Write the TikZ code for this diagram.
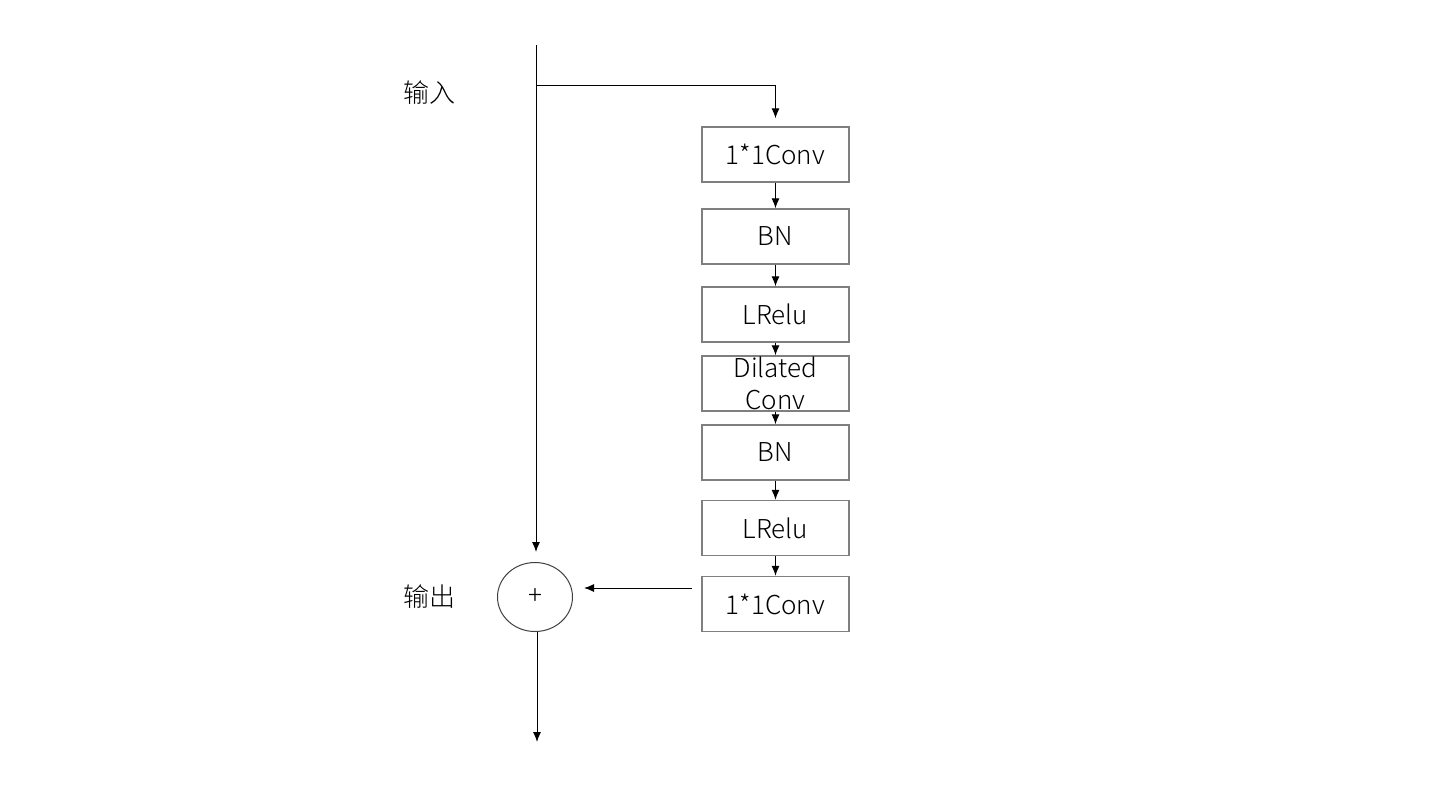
\documentclass[tikz,border=0pt]{standalone}
\usepackage{fontspec}
\setmainfont{Noto Sans CJK SC Light}
\usetikzlibrary{arrows.meta,shapes.geometric}
\definecolor{boxgray}{HTML}{7F7F7F}
\definecolor{ringgray}{HTML}{404040}

\begin{document}
\begin{tikzpicture}[x=0.5pt,y=-0.5pt,
    block/.style={draw=boxgray,line width=0.7pt,minimum width=73.5pt,minimum height=27.5pt,
      inner sep=0pt,font=\fontsize{13}{16}\selectfont},
    lab/.style={font=\fontsize{13}{16}\selectfont},
    arr/.style={-{Latex[length=5pt,width=4pt]},line width=0.5pt}]
  \useasboundingbox (0,0) rectangle (1440,810);

  % residual branch
  \node[block] (conva) at (775.5,154.5) {1*1Conv};
  \node[block] (bna) at (775.5,236.5) {BN};
  \node[block] (relua) at (775.5,314.5) {LRelu};
  \node[block,align=center] (dil) at (775.5,383.5) {Dilated\\Conv};
  \node[block] (bnb) at (775.5,452.5) {BN};
  \node[block] (relub) at (775.5,528) {LRelu};
  \node[block] (convb) at (775.5,604) {1*1Conv};

  % sum and labels
  \node[ellipse,draw=ringgray,line width=0.5pt,minimum width=37.5pt,minimum height=34.5pt,
    inner sep=0pt,font=\fontsize{13}{13}\selectfont] (sum) at (535,597) {+};
  \node[lab] (in) at (429,93) {输入};
  \node[lab] (out) at (429,597) {输出};

  \coordinate (top) at (536,45);
  \coordinate (split) at (536,85);
  \coordinate (fb) at (692,588);
  \coordinate (end) at (537,742);

  \draw[arr,shorten >=5pt] (top) -- (top |- sum.north);
  \draw[arr,shorten >=4pt] (split) -| (conva.north);
  \foreach \a/\b in {conva/bna,bna/relua,relua/dil,dil/bnb,bnb/relub,relub/convb}
    \draw[arr] (\a) -- (\b);
  \draw[arr,shorten >=5.5pt] (fb) -- (fb -| sum.east);
  \draw[arr] (sum.south -| end) -- (end);
\end{tikzpicture}
\end{document}
